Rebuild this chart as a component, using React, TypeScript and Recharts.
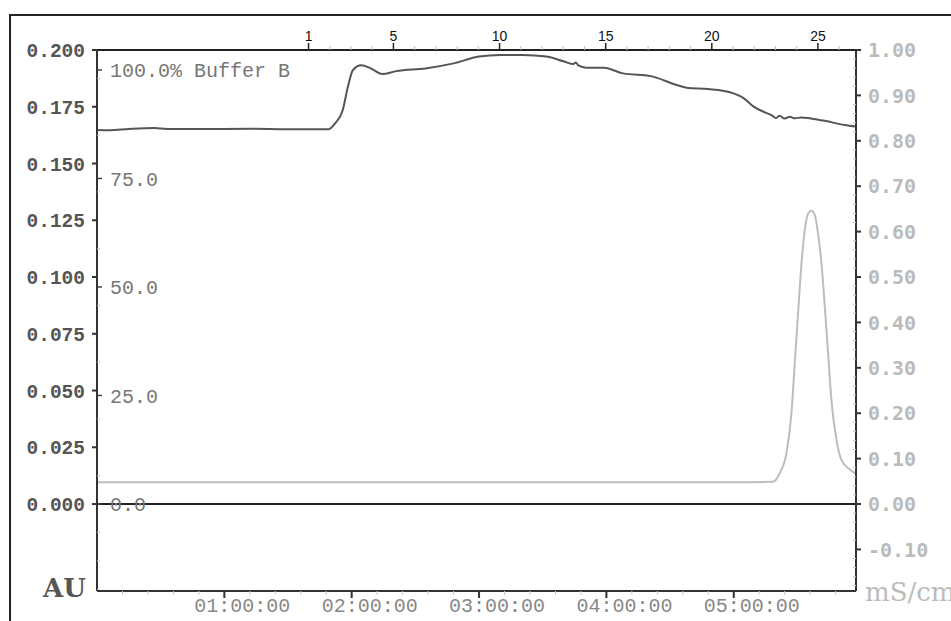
import React from "react";
import { LineChart, Line, XAxis, YAxis, ReferenceLine } from "recharts";

// UV absorbance trace (hours, AU)
const uvHours = [
  0, 0.1, 0.25, 0.45, 0.55, 0.8, 1.2, 1.5, 1.82, 1.87, 1.93, 1.97, 2.01, 2.075,
  2.15, 2.24, 2.35, 2.58, 2.8, 3.0, 3.17, 3.34, 3.53, 3.67, 3.74, 3.76, 3.78,
  3.84, 3.98, 4.13, 4.35, 4.55, 4.63, 4.8, 4.97, 5.08, 5.15, 5.25, 5.3, 5.33,
  5.36, 5.4, 5.44, 5.48, 5.53, 5.7, 5.87, 5.96,
];
const uvAU = [
  0.1648, 0.1647, 0.1652, 0.1656, 0.1652, 0.1652, 0.1653, 0.1651, 0.1651,
  0.1677, 0.1736, 0.1838, 0.1912, 0.1933, 0.1919, 0.1894, 0.1907, 0.1919,
  0.1941, 0.1971, 0.1978, 0.1978, 0.1971, 0.1949, 0.1938, 0.1945, 0.1932,
  0.1922, 0.1922, 0.1897, 0.1885, 0.1846, 0.1834, 0.1828, 0.1814, 0.1787,
  0.1753, 0.1724, 0.1712, 0.17, 0.171, 0.1698, 0.1706, 0.1699, 0.1703, 0.1689,
  0.167, 0.1663,
];

// conductivity trace (hours, mS/cm)
const condHours = [
  0, 1, 2, 3, 4, 5, 5.306, 5.33, 5.361, 5.414, 5.453, 5.479, 5.505, 5.532,
  5.558, 5.584, 5.61, 5.636, 5.662, 5.689, 5.715, 5.741, 5.767, 5.807, 5.846,
  5.911, 5.958,
];
const condMS = [
  0.048, 0.048, 0.048, 0.048, 0.048, 0.048, 0.049, 0.053, 0.068, 0.112, 0.2,
  0.31, 0.42, 0.53, 0.604, 0.64, 0.646, 0.637, 0.596, 0.53, 0.435, 0.332,
  0.229, 0.141, 0.097, 0.076, 0.067,
];

const hourTicks = [1, 2, 3, 4, 5];
const hourLabels = ["01:00:00", "02:00:00", "03:00:00", "04:00:00", "05:00:00"];
const fractionNumbers = [
  1, 2, 3, 4, 5, 6, 7, 8, 9, 10, 11, 12, 13, 14, 15, 16, 17, 18, 19, 20, 21,
  22, 23, 24, 25, 26,
];
const fractionLabels = [1, 5, 10, 15, 20, 25];
const auTicks = [0, 0.025, 0.05, 0.075, 0.1, 0.125, 0.15, 0.175, 0.2];
const msTicks = [-0.1, 0, 0.1, 0.2, 0.3, 0.4, 0.5, 0.6, 0.7, 0.8, 0.9, 1.0];
const bufferTicks = [0, 25, 50, 75, 100];
const bufferLabels = ["0.0", "25.0", "50.0", "75.0", "100.0% Buffer B"];

const T_MAX = 5.96;
// fraction 1 starts at 1.661 h, one fraction every 10 min
const FRAC_START_H = 1.661;
const FRAC_MIN = 10;
const fractionHours = fractionNumbers.map((f) => +(FRAC_START_H + ((f - 1) * FRAC_MIN) / 60).toFixed(4));

const uvData = uvHours.map((t, i) => ({ t, au: uvAU[i] }));
const condData = condHours.map((t, i) => ({ t, ms: condMS[i] }));

const bottomAll = Array.from({ length: 29 }, (_, i) => +(0.2 * (i + 1)).toFixed(1));
const auAll = Array.from({ length: 20 }, (_, i) => +(-0.0375 + 0.0125 * i).toFixed(4));
const msAll = Array.from({ length: 60 }, (_, i) => +(-0.18 + 0.02 * i).toFixed(2));

const near = (a: number, b: number) => Math.abs(a - b) < 1e-6;
const mono = "'Liberation Mono', 'DejaVu Sans Mono', monospace";

const BottomTick = ({ x, y, payload }: any) => {
  const idx = hourTicks.findIndex((h) => near(h, payload.value));
  if (idx < 0)
    return <line x1={x} x2={x} y1={y} y2={y + 4} stroke="#c8c8c8" strokeWidth={1} />;
  return (
    <g>
      <line x1={x} x2={x} y1={y} y2={y + 7} stroke="#333" strokeWidth={2} />
      <text x={x + 18} y={y + 21} textAnchor="middle" fontFamily={mono} fontSize={20} fill="#888">
        {hourLabels[idx]}
      </text>
    </g>
  );
};

const TopTick = ({ x, y, payload }: any) => {
  const idx = fractionHours.findIndex((h) => near(h, payload.value));
  const f = fractionNumbers[idx];
  if (!fractionLabels.includes(f))
    return <line x1={x} x2={x} y1={y} y2={y - 4} stroke="#bbb" strokeWidth={1} />;
  return (
    <g>
      <line x1={x} x2={x} y1={y} y2={y - 7} stroke="#222" strokeWidth={1.5} />
      <text x={x} y={y - 9} textAnchor="middle" fontFamily="'Liberation Sans', Arial, sans-serif" fontSize={14} fill="#111">
        {f}
      </text>
    </g>
  );
};

const AuTick = ({ x, y, payload }: any) => {
  const v = payload.value;
  if (!auTicks.some((a) => near(a, v)))
    return <line x1={x} x2={x + 3} y1={y} y2={y} stroke="#c8c8c8" strokeWidth={1} />;
  return (
    <g>
      <line x1={x} x2={x - 5} y1={y} y2={y} stroke="#333" strokeWidth={2} />
      <text x={x - 12} y={y} dy="0.36em" textAnchor="end" fontFamily={mono} fontWeight="bold" fontSize={19.5} fill="#555">
        {v.toFixed(3)}
      </text>
    </g>
  );
};

const MsTick = ({ x, y, payload }: any) => {
  const v = payload.value;
  if (!msTicks.some((a) => near(a, v)))
    return <line x1={x} x2={x - 3} y1={y} y2={y} stroke="#c8c8c8" strokeWidth={1} />;
  return (
    <g>
      <line x1={x} x2={x + 5} y1={y} y2={y} stroke="#333" strokeWidth={2} />
      <text x={x + 12} y={y} dy="0.36em" textAnchor="start" fontFamily="'DejaVu Sans Mono', monospace" fontWeight="bold" fontSize={20} fill="#bbb">
        {v.toFixed(2)}
      </text>
    </g>
  );
};

// buffer axis sits 1px left of the AU axis (stacked), so shift back by 1
const BufTick = ({ x, y, payload }: any) => {
  const idx = bufferTicks.indexOf(payload.value);
  const ax = x + 1;
  return (
    <g>
      <line x1={ax} x2={ax + 5} y1={y} y2={y} stroke="#444" strokeWidth={1.5} />
      <text x={ax + 13} y={y} dy="0.36em" textAnchor="start" fontFamily={mono} fontSize={20} fill="#777">
        {bufferLabels[idx]}
      </text>
    </g>
  );
};

export default function App() {
  return (
    <div style={{ position: "fixed", left: 0, top: 0, width: 951, height: 621, overflow: "hidden", background: "#fff" }}>
      <div
        style={{
          position: "absolute",
          left: 9,
          top: 14,
          width: 1200,
          height: 800,
          borderLeft: "2px solid #222",
          borderTop: "2px solid #222",
        }}
      />
      <LineChart
        width={951}
        height={621}
        margin={{ top: 49, right: 94, bottom: 29, left: 95 }}
        style={{ position: "absolute", left: 0, top: 0 }}
      >
        <XAxis
          xAxisId="t"
          dataKey="t"
          type="number"
          domain={[0, T_MAX]}
          allowDataOverflow
          ticks={bottomAll}
          interval={0}
          height={1}
          tickSize={0}
          tickMargin={0}
          tickLine={false}
          tick={BottomTick}
          axisLine={{ stroke: "#333", strokeWidth: 2 }}
        />
        <XAxis
          xAxisId="top"
          dataKey="t"
          orientation="top"
          type="number"
          domain={[0, T_MAX]}
          allowDataOverflow
          ticks={fractionHours}
          interval={0}
          height={1}
          tickSize={0}
          tickMargin={0}
          tickLine={false}
          tick={TopTick}
          axisLine={{ stroke: "#222", strokeWidth: 2 }}
        />
        <YAxis
          yAxisId="au"
          type="number"
          domain={[-0.0383, 0.2]}
          allowDataOverflow
          ticks={auAll}
          interval={0}
          width={1}
          tickSize={0}
          tickMargin={0}
          tickLine={false}
          tick={AuTick}
          axisLine={{ stroke: "#333", strokeWidth: 2 }}
        />
        <YAxis
          yAxisId="buf"
          type="number"
          domain={[-20.05, 104.6]}
          allowDataOverflow
          ticks={bufferTicks}
          interval={0}
          width={1}
          tickSize={0}
          tickMargin={0}
          tickLine={false}
          tick={BufTick}
          axisLine={false}
        />
        <YAxis
          yAxisId="ms"
          orientation="right"
          type="number"
          domain={[-0.1916, 1.0]}
          allowDataOverflow
          ticks={msAll}
          interval={0}
          width={1}
          tickSize={0}
          tickMargin={0}
          tickLine={false}
          tick={MsTick}
          axisLine={{ stroke: "#333", strokeWidth: 2 }}
        />
        <ReferenceLine yAxisId="au" xAxisId="t" y={0} stroke="#222" strokeWidth={2} />
        <Line
          xAxisId="top"
          yAxisId="ms"
          data={condData}
          dataKey="ms"
          type="monotone"
          stroke="#bdbdbd"
          strokeWidth={2}
          dot={false}
          isAnimationActive={false}
        />
        <Line
          xAxisId="t"
          yAxisId="au"
          data={uvData}
          dataKey="au"
          type="monotone"
          stroke="#555"
          strokeWidth={2}
          dot={false}
          isAnimationActive={false}
        />
      </LineChart>
      <svg width={951} height={621} style={{ position: "absolute", left: 0, top: 0, pointerEvents: "none" }}>
        <text x={43} y={597} fontFamily="'DejaVu Serif', serif" fontWeight="bold" fontSize={26} fill="#555">
          AU
        </text>
        <text x={865} y={601} fontFamily="'DejaVu Serif', serif" fontSize={26} fill="#bbb">
          mS/cm
        </text>
      </svg>
    </div>
  );
}
